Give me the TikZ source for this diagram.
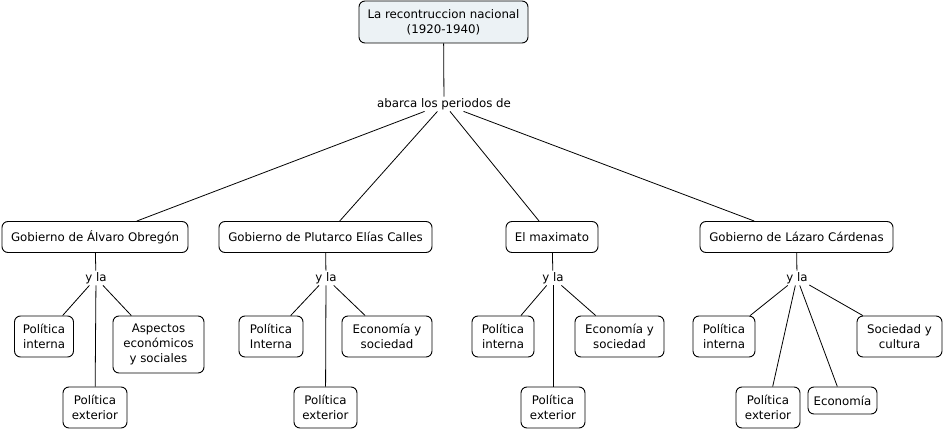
\documentclass[tikz,border=0pt]{standalone}
\usepackage{fontspec}
\setmainfont{DejaVu Sans}
\definecolor{rootfill}{RGB}{236,242,245}
\begin{document}
\begin{tikzpicture}[x=1pt,y=-1pt,
  box/.style={draw, line width=0.9pt, rounded corners=6pt, align=center, inner sep=0pt,
    font=\fontsize{11.8}{14.8}\selectfont},
  lbl/.style={inner sep=1.5pt, font=\fontsize{11.8}{14.8}\selectfont},
  link/.style={line width=0.8pt}]
\useasboundingbox (0,0) rectangle (945,430);
% root
\node[box, fill=rootfill, minimum width=169pt, minimum height=42pt] (root) at (443.5,22) {La recontruccion nacional\\(1920-1940)};
\node[lbl] (abarca) at (444,104) {abarca los periodos de};
% level 2
\node[box, minimum width=186pt, minimum height=31pt] (obr) at (95,237) {Gobierno de Álvaro Obregón};
\node[box, minimum width=213pt, minimum height=31pt] (plu) at (325.5,237) {Gobierno de Plutarco Elías Calles};
\node[box, minimum width=92pt, minimum height=31pt] (max) at (552,237) {El maximato};
\node[box, minimum width=193pt, minimum height=31pt] (laz) at (796.5,237) {Gobierno de Lázaro Cárdenas};
% y la labels
\node[lbl] (y1) at (96,278) {y la};
\node[lbl] (y2) at (326,278) {y la};
\node[lbl] (y3) at (553,278) {y la};
\node[lbl] (y4) at (797,278) {y la};
% leaves group 1
\node[box, minimum width=59pt, minimum height=41pt] (o1) at (44,336.5) {Política\\interna};
\node[box, minimum width=91pt, minimum height=57pt] (o2) at (158.5,344.5) {Aspectos\\económicos\\y sociales};
\node[box, minimum width=64pt, minimum height=41pt] (o3) at (95,407.5) {Política\\exterior};
% group 2
\node[box, minimum width=64pt, minimum height=41pt] (p1) at (271,336.5) {Política\\Interna};
\node[box, minimum width=90pt, minimum height=41pt] (p2) at (387,336.5) {Economía y\\sociedad};
\node[box, minimum width=63pt, minimum height=41pt] (p3) at (325.5,407.5) {Política\\exterior};
% group 3
\node[box, minimum width=62pt, minimum height=41pt] (m1) at (503,336.5) {Política\\interna};
\node[box, minimum width=89pt, minimum height=41pt] (m2) at (619.5,336.5) {Economía y\\sociedad};
\node[box, minimum width=64pt, minimum height=41pt] (m3) at (553,407.5) {Política\\exterior};
% group 4
\node[box, minimum width=62pt, minimum height=41pt] (l1) at (724,336.5) {Política\\interna};
\node[box, minimum width=85pt, minimum height=41pt] (l2) at (899.5,336.5) {Sociedad y\\cultura};
\node[box, minimum width=64pt, minimum height=41pt] (l3) at (768,407.5) {Política\\exterior};
\node[box, minimum width=69pt, minimum height=27pt] (l4) at (842.5,400.5) {Economía};
% connectors
\draw[link] (root) -- (abarca);
\foreach \t in {obr,plu,max,laz} \draw[link] (abarca) -- (\t);
\draw[link] (obr) -- (y1);
\draw[link] (plu) -- (y2);
\draw[link] (max) -- (y3);
\draw[link] (laz) -- (y4);
\foreach \t in {o1,o2,o3} \draw[link] (y1) -- (\t);
\foreach \t in {p1,p2,p3} \draw[link] (y2) -- (\t);
\foreach \t in {m1,m2,m3} \draw[link] (y3) -- (\t);
\foreach \t in {l1,l2,l3,l4} \draw[link] (y4) -- (\t);
\end{tikzpicture}
\end{document}
